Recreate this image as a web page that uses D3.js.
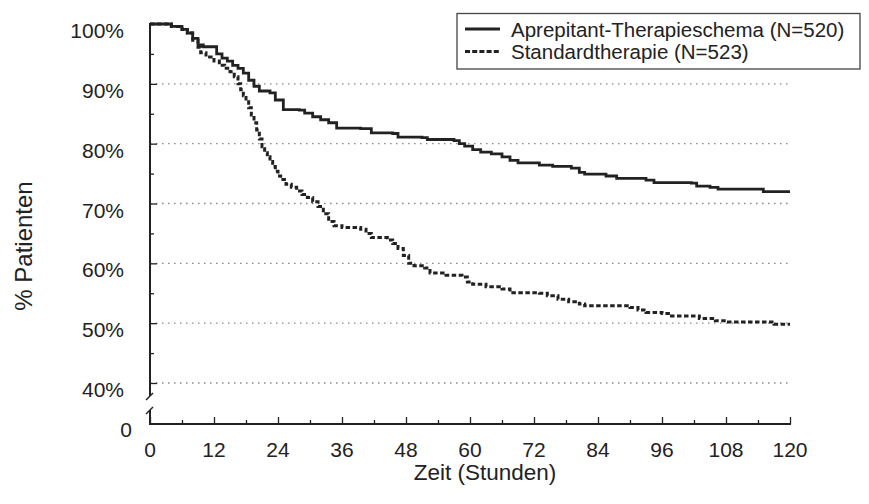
<!DOCTYPE html>
<html><head><meta charset="utf-8">
<script src="https://cdn.jsdelivr.net/npm/d3@7"></script>
<style>body{margin:0;background:#fff}svg{display:block}text{font-family:"Liberation Sans",Arial,sans-serif;fill:#222}</style>
</head><body><svg id="c" width="869" height="504"></svg>
<script>
const seriesNames = ["Aprepitant-Therapieschema (N=520)", "Standardtherapie (N=523)"];
const aprepitantHours = [0,3,4,6,7,8,9,10,11.5,12.5,13.5,14.5,15.5,16.5,17.5,18.5,19.5,20.5,22.5,23.5,25,28,29,30.5,32,33.5,35,39.5,41.5,45.5,46.5,51,52,57,58,59,60.5,62,64,66,67.5,69,73,75.5,79,80.5,81.5,85.5,87.5,93,94.5,101.5,102.5,105,106.5,112.5,115,120];
const aprepitantPct = [100,100,99.6,99.1,98.5,97.6,96.5,96.2,96.2,95.0,94.3,93.8,93.1,92.6,91.8,90.6,89.6,88.8,88.5,87.3,85.7,85.6,85.1,84.5,84.0,83.5,82.6,82.5,81.8,81.7,81.1,81.0,80.7,80.5,80.0,79.6,79.0,78.6,78.3,77.8,77.2,76.8,76.4,76.2,75.9,75.2,74.9,74.6,74.2,73.9,73.5,73.4,72.9,72.7,72.4,72.4,72.0,72.0];
const standardHours = [0,3,4,6,7,8,9,9.5,10.5,12,13,14,15,15.8,16.5,17,17.5,18,18.5,19,19.5,20,20.5,21,21.5,22,22.5,23,23.5,24,24.5,25.5,26.5,27.5,28.5,29.5,30.5,31.5,32.5,33.5,34.5,36,39.5,40.5,41.5,44.5,45.5,46.5,47.5,48.5,49.5,51.5,52.5,55.5,58.5,59.5,60.5,63,66,67.5,73,74.5,76.5,78.5,80.5,81.5,88.5,90,91.5,93,96,97.5,103,106,108,116,117,120];
const standardPct = [100,100,99.6,99.1,98.5,97.3,96.1,95.2,94.5,93.8,93.1,92.6,92.0,91.2,90.0,89.0,88.0,87.0,86.0,84.8,83.5,82.3,80.8,79.5,78.5,77.8,77.0,76.2,75.4,74.6,74.0,73.2,72.7,72.1,71.5,71.0,70.3,69.5,68.3,67.0,66.3,66.0,65.7,65.0,64.3,63.9,63.3,62.5,61.3,60.0,59.6,59.2,58.4,58.0,57.7,56.9,56.5,56.1,55.7,55.1,55.0,54.6,54.0,53.6,53.2,52.9,52.9,52.6,52.2,51.8,51.6,51.2,50.8,50.4,50.2,50.2,49.8,49.8];
const xTicks = [0,12,24,36,48,60,72,84,96,108,120];
const xMinorTicks = [6,18,30,42,54,66,78,90,102,114];
const yTicks = [40,50,60,70,80,90,100];
const yMinorTicks = [45,55,65,75,85,95];
const yGrid = [40,50,60,70,80,90];
const xTitle = "Zeit (Stunden)";
const yTitle = "% Patienten";

const svg = d3.select("#c");
const x = d3.scaleLinear().domain([0,120]).range([150,790]);
const y = d3.scaleLinear().domain([40,100]).range([383,24]);
const baseY = 424;
const ink = "#222";

function stext(px, py, str, size, anchor, rot){
  svg.append("text").attr("transform", `translate(${px},${py})` + (rot?` rotate(${rot})`:""))
    .attr("text-anchor", anchor).attr("font-size", size).text(str);
}

// gridlines
svg.append("g").selectAll("line").data(yGrid).join("line")
  .attr("x1", x(0)).attr("x2", x(120)).attr("y1", d=>y(d)).attr("y2", d=>y(d))
  .attr("stroke", "#888").attr("stroke-width", 1.4).attr("stroke-dasharray", "1.5,4.5");

// y axis ticks via d3 axis (inward)
const yAx = svg.append("g").attr("transform", `translate(${x(0)},0)`)
  .call(d3.axisLeft(y).tickValues(yTicks).tickSize(-7).tickFormat(""));
yAx.select(".domain").remove();
yAx.selectAll("line").attr("stroke", ink).attr("stroke-width", 1.3);
const yAxm = svg.append("g").attr("transform", `translate(${x(0)},0)`)
  .call(d3.axisLeft(y).tickValues(yMinorTicks).tickSize(-4).tickFormat(""));
yAxm.select(".domain").remove();
yAxm.selectAll("line").attr("stroke", ink).attr("stroke-width", 1.3);

// x axis ticks (inward)
const xAx = svg.append("g").attr("transform", `translate(0,${baseY})`)
  .call(d3.axisBottom(x).tickValues(xTicks).tickSize(-7).tickFormat(""));
xAx.select(".domain").remove();
xAx.selectAll("line").attr("stroke", ink).attr("stroke-width", 1.3);
const xAxm = svg.append("g").attr("transform", `translate(0,${baseY})`)
  .call(d3.axisBottom(x).tickValues(xMinorTicks).tickSize(-4).tickFormat(""));
xAxm.select(".domain").remove();
xAxm.selectAll("line").attr("stroke", ink).attr("stroke-width", 1.3);

// axis lines with break
const ax = svg.append("g").attr("stroke", ink).attr("stroke-width", 2).attr("fill","none");
ax.append("line").attr("x1", x(0)).attr("x2", x(0)).attr("y1", y(100)-1).attr("y2", 396);
ax.append("line").attr("x1", x(0)-4).attr("x2", x(0)+3).attr("y1", 400).attr("y2", 393).attr("stroke-width",1.5);
ax.append("line").attr("x1", x(0)-4).attr("x2", x(0)+3).attr("y1", 414).attr("y2", 407).attr("stroke-width",1.5);
ax.append("line").attr("x1", x(0)).attr("x2", x(0)).attr("y1", 410).attr("y2", baseY+1);
ax.append("line").attr("x1", x(0)-1).attr("x2", x(120)+1).attr("y1", baseY).attr("y2", baseY);

// labels
yTicks.forEach(v => stext(124, y(v)+14, v + "%", 21, "end"));
stext(132, baseY+13, "0", 21, "end");
xTicks.forEach(v => stext(x(v), baseY+33, String(v), 21, "middle"));
stext(485, baseY+56, xTitle, 22.5, "middle");
stext(32, 246, yTitle, 24, "middle", -90);

// curves
const line = d3.line().x(d=>x(d[0])).y(d=>y(d[1])).curve(d3.curveStepAfter);
const aData = aprepitantHours.map((h,i)=>[h, aprepitantPct[i]]);
const sData = standardHours.map((h,i)=>[h, standardPct[i]]);
svg.append("path").datum(sData).attr("d", line).attr("fill","none").attr("stroke", ink)
  .attr("stroke-width", 3).attr("stroke-dasharray", "4.5,2.5");
svg.append("path").datum(aData).attr("d", line).attr("fill","none").attr("stroke", ink)
  .attr("stroke-width", 2.8);

// legend
const lg = svg.append("g");
lg.append("rect").attr("x", 457).attr("y", 13.5).attr("width", 403).attr("height", 55.5)
  .attr("fill", "#fff").attr("stroke", "#444").attr("stroke-width", 1.3);
lg.append("line").attr("x1", 465).attr("x2", 500).attr("y1", 29).attr("y2", 29).attr("stroke", ink).attr("stroke-width", 2.8);
lg.append("line").attr("x1", 465).attr("x2", 500).attr("y1", 51.5).attr("y2", 51.5).attr("stroke", ink).attr("stroke-width", 2.8).attr("stroke-dasharray","5,2.2");
stext(511, 37, seriesNames[0], 20.5, "start");
stext(511, 59, seriesNames[1], 20.5, "start");
</script></body></html>
